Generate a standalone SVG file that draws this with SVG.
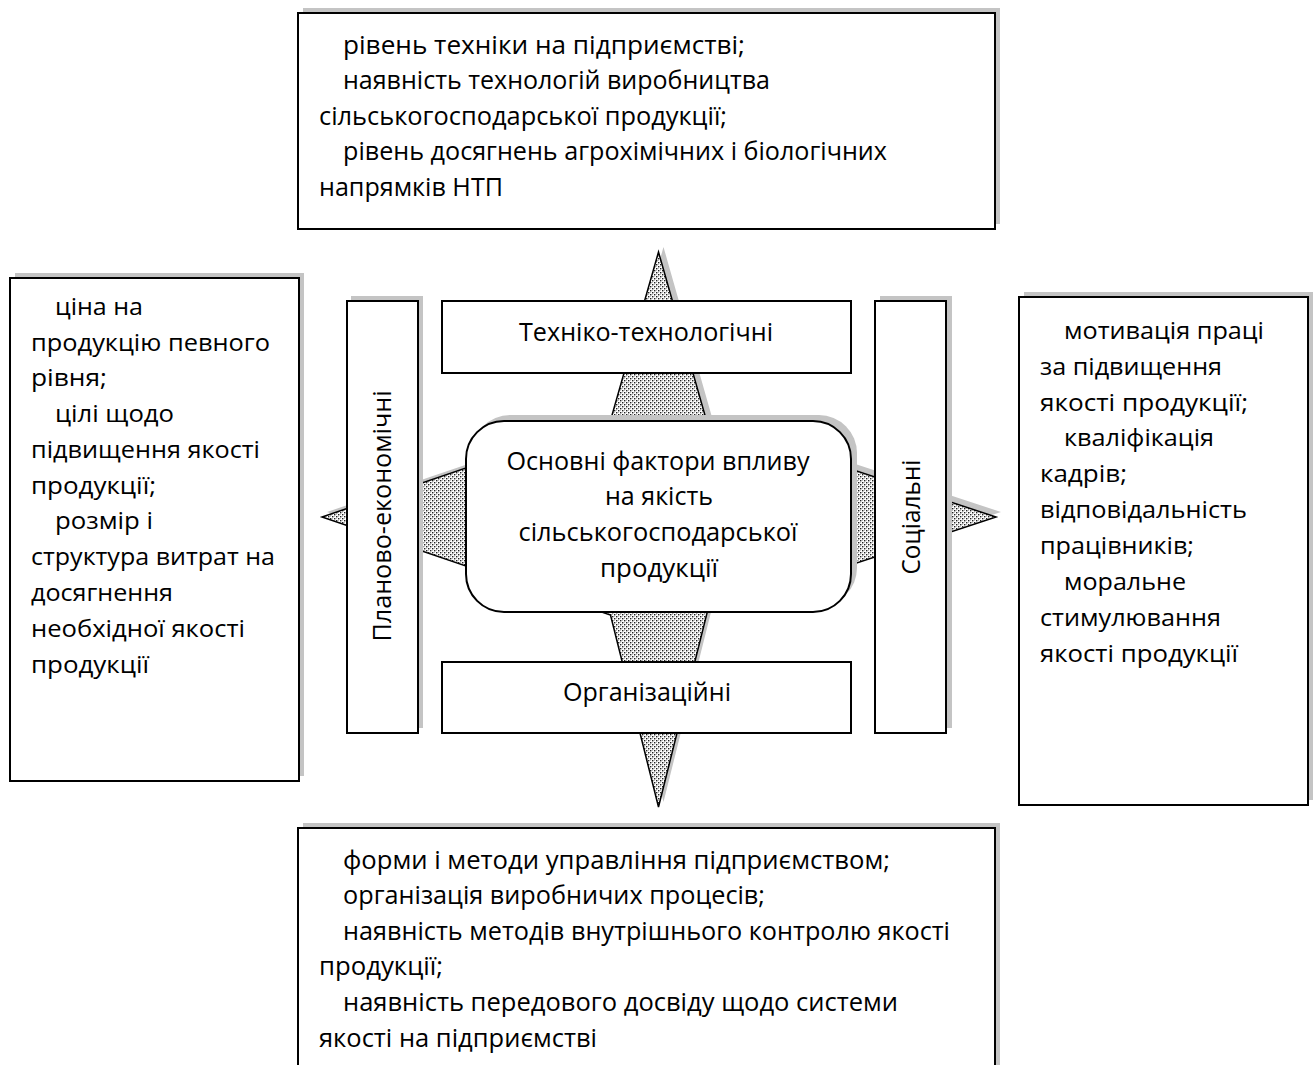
<svg xmlns="http://www.w3.org/2000/svg" width="1315" height="1065" viewBox="0 0 1315 1065">
<style>
.box{fill:#fff;stroke:#000;stroke-width:2}
.shd{fill:#c4c4c4}
.t{font-family:"Open Sans","Liberation Sans",sans-serif;font-size:24px;fill:#000}
.n{font-size:26px}
.c{text-anchor:middle}
</style>
<defs>
<pattern id="dots" width="4" height="4" patternUnits="userSpaceOnUse">
<rect width="4" height="4" fill="#fff"/>
<rect x="0" y="0" width="1.4" height="1.4" fill="#222"/>
<rect x="2" y="2" width="1.4" height="1.4" fill="#222"/>
<rect x="2" y="0" width="0.8" height="0.8" fill="#999"/>
<rect x="0" y="2" width="0.8" height="0.8" fill="#999"/>
</pattern>
</defs>
<rect width="1315" height="1065" fill="#fff"/>

<g id="connectors">
<polygon class="shd" transform="translate(5,-5)" points="658.5,252 706.8,421.6 996,517 707.2,612.3 658.5,807 610.5,615.1 322,517 611,418.7"/>
<polygon points="658.5,252 706.8,421.6 996,517 707.2,612.3 658.5,807 610.5,615.1 322,517 611,418.7" fill="url(#dots)" stroke="#000" stroke-width="1.5"/>
</g>

<g id="tech-box">
<rect class="box" x="442" y="301" width="409" height="72"/>
<text class="t n c" x="646" y="341" textLength="254" lengthAdjust="spacingAndGlyphs">Техніко-технологічні</text>
</g>
<g id="org-box">
<rect class="box" x="442" y="662" width="409" height="71"/>
<text class="t n c" x="647" y="701" textLength="168" lengthAdjust="spacingAndGlyphs">Організаційні</text>
</g>
<g id="plan-box">
<rect class="shd" x="351" y="296" width="72" height="432"/>
<rect class="box" x="347" y="301" width="71" height="432"/>
<text class="t n c" transform="translate(391,516) rotate(-90)" textLength="251" lengthAdjust="spacingAndGlyphs">Планово-економічні</text>
</g>
<g id="social-box">
<rect class="shd" x="880" y="296" width="72" height="432"/>
<rect class="box" x="875" y="301" width="71" height="432"/>
<text class="t n c" transform="translate(920,517) rotate(-90)" textLength="115" lengthAdjust="spacingAndGlyphs">Соціальні</text>
</g>

<g id="center">
<rect class="shd" x="472" y="415" width="385" height="191" rx="38"/>
<rect class="box" x="466" y="421" width="385" height="191" rx="38"/>
<text class="t n c" x="658" y="470" textLength="303" lengthAdjust="spacingAndGlyphs">Основні фактори впливу</text>
<text class="t n c" x="659" y="505" textLength="108" lengthAdjust="spacingAndGlyphs">на якість</text>
<text class="t n c" x="658" y="541" textLength="279" lengthAdjust="spacingAndGlyphs">сільськогосподарської</text>
<text class="t n c" x="659" y="577" textLength="118" lengthAdjust="spacingAndGlyphs">продукції</text>
</g>

<g id="top-box">
<rect class="shd" x="303" y="8" width="697" height="216"/>
<rect class="box" x="298" y="13" width="697" height="216"/>
<text class="t n" x="343" y="54" textLength="402" lengthAdjust="spacingAndGlyphs">рівень техніки на підприємстві;</text>
<text class="t n" x="343" y="89" textLength="427" lengthAdjust="spacingAndGlyphs">наявність технологій виробництва</text>
<text class="t n" x="319" y="125" textLength="408" lengthAdjust="spacingAndGlyphs">сільськогосподарської продукції;</text>
<text class="t n" x="343" y="160" textLength="544" lengthAdjust="spacingAndGlyphs">рівень досягнень агрохімічних і біологічних</text>
<text class="t n" x="319" y="196" textLength="184" lengthAdjust="spacingAndGlyphs">напрямків НТП</text>
</g>

<g id="left-box">
<rect class="shd" x="15" y="273" width="289" height="503"/>
<rect class="box" x="10" y="278" width="289" height="503"/>
<text class="t" x="55" y="315" textLength="88" lengthAdjust="spacingAndGlyphs">ціна на</text>
<text class="t" x="31" y="351" textLength="239" lengthAdjust="spacingAndGlyphs">продукцію певного</text>
<text class="t" x="31" y="386" textLength="76" lengthAdjust="spacingAndGlyphs">рівня;</text>
<text class="t" x="55" y="422" textLength="119" lengthAdjust="spacingAndGlyphs">цілі щодо</text>
<text class="t" x="31" y="458" textLength="229" lengthAdjust="spacingAndGlyphs">підвищення якості</text>
<text class="t" x="31" y="494" textLength="125" lengthAdjust="spacingAndGlyphs">продукції;</text>
<text class="t" x="55" y="529" textLength="98" lengthAdjust="spacingAndGlyphs">розмір і</text>
<text class="t" x="31" y="565" textLength="244" lengthAdjust="spacingAndGlyphs">структура витрат на</text>
<text class="t" x="31" y="601" textLength="142" lengthAdjust="spacingAndGlyphs">досягнення</text>
<text class="t" x="31" y="637" textLength="214" lengthAdjust="spacingAndGlyphs">необхідної якості</text>
<text class="t" x="31" y="673" textLength="118" lengthAdjust="spacingAndGlyphs">продукції</text>
</g>

<g id="right-box">
<rect class="shd" x="1024" y="292" width="289" height="508"/>
<rect class="box" x="1019" y="297" width="289" height="508"/>
<text class="t" x="1064" y="339" textLength="200" lengthAdjust="spacingAndGlyphs">мотивація праці</text>
<text class="t" x="1040" y="375" textLength="182" lengthAdjust="spacingAndGlyphs">за підвищення</text>
<text class="t" x="1040" y="411" textLength="208" lengthAdjust="spacingAndGlyphs">якості продукції;</text>
<text class="t" x="1064" y="446" textLength="150" lengthAdjust="spacingAndGlyphs">кваліфікація</text>
<text class="t" x="1040" y="482" textLength="87" lengthAdjust="spacingAndGlyphs">кадрів;</text>
<text class="t" x="1040" y="518" textLength="207" lengthAdjust="spacingAndGlyphs">відповідальність</text>
<text class="t" x="1040" y="554" textLength="154" lengthAdjust="spacingAndGlyphs">працівників;</text>
<text class="t" x="1064" y="590" textLength="122" lengthAdjust="spacingAndGlyphs">моральне</text>
<text class="t" x="1040" y="626" textLength="181" lengthAdjust="spacingAndGlyphs">стимулювання</text>
<text class="t" x="1040" y="662" textLength="198" lengthAdjust="spacingAndGlyphs">якості продукції</text>
</g>

<g id="bottom-box">
<rect class="shd" x="303" y="823" width="697" height="250"/>
<rect class="box" x="298" y="828" width="697" height="250"/>
<text class="t n" x="343" y="869" textLength="547" lengthAdjust="spacingAndGlyphs">форми і методи управління підприємством;</text>
<text class="t n" x="343" y="904" textLength="422" lengthAdjust="spacingAndGlyphs">організація виробничих процесів;</text>
<text class="t n" x="343" y="940" textLength="607" lengthAdjust="spacingAndGlyphs">наявність методів внутрішнього контролю якості</text>
<text class="t n" x="319" y="975" textLength="124" lengthAdjust="spacingAndGlyphs">продукції;</text>
<text class="t n" x="343" y="1011" textLength="555" lengthAdjust="spacingAndGlyphs">наявність передового досвіду щодо системи</text>
<text class="t n" x="319" y="1047" textLength="278" lengthAdjust="spacingAndGlyphs">якості на підприємстві</text>
</g>
</svg>
